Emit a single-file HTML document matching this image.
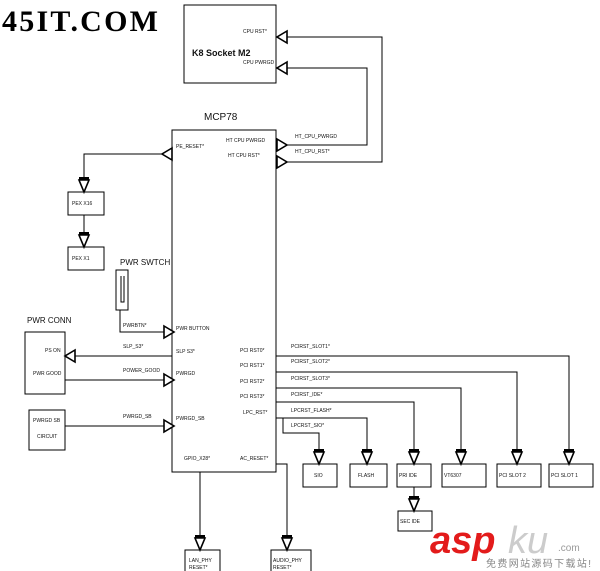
<!DOCTYPE html>
<html><head><meta charset="utf-8"><style>
html,body{margin:0;padding:0;background:#fff;width:600px;height:571px;overflow:hidden}
svg{display:block}
text{font-family:"Liberation Sans",sans-serif;font-size:5px;fill:#111}
</style></head><body>
<svg width="600" height="571" viewBox="0 0 600 571" xmlns="http://www.w3.org/2000/svg">
<defs>
<g id="ad"><path d="M-5,0 L5,0 L0,12 Z" fill="#fff" stroke="#000" stroke-width="1.6"/><rect x="-5" y="-3" width="10" height="3" fill="#000"/></g>
<g id="ar"><path d="M0,-6 L10,0 L0,6 Z" fill="#fff" stroke="#000" stroke-width="1.6"/></g>
<g id="al"><path d="M10,-6 L0,0 L10,6 Z" fill="#fff" stroke="#000" stroke-width="1.6"/></g>
</defs>
<text x="2" y="31" textLength="156" lengthAdjust="spacing" style="font-family:'Liberation Serif',serif;font-size:30px;fill:#000;font-weight:bold">45IT.COM</text>
<g fill="none" stroke="#000" stroke-width="1">
<rect x="184" y="5" width="92" height="78"/>
<rect x="172" y="130" width="104" height="342"/>
<polyline points="287,37 382,37 382,162 286,162"/>
<polyline points="287,68 367,68 367,145 286,145"/>
<polyline points="163,154 84,154 84,192"/>
<rect x="68" y="192" width="36" height="23"/>
<line x1="84" y1="215" x2="84" y2="247"/>
<rect x="68" y="247" width="36" height="23"/>
<rect x="116" y="270" width="12" height="40"/>
<polyline points="121,276 121,302 124,302 124,276"/>
<polyline points="120,310 120,332 164,332"/>
<rect x="25" y="332" width="40" height="62"/>
<line x1="75" y1="356" x2="172" y2="356"/>
<line x1="65" y1="380" x2="164" y2="380"/>
<rect x="29" y="410" width="36" height="40"/>
<line x1="65" y1="426" x2="164" y2="426"/>
<polyline points="276,356 569,356 569,450"/>
<polyline points="276,372 517,372 517,450"/>
<polyline points="276,388 461,388 461,450"/>
<polyline points="276,402 414,402 414,450"/>
<polyline points="276,418 367,418 367,450"/>
<polyline points="283,418 283,433 319,433 319,450"/>
<rect x="303" y="464" width="34" height="23"/>
<rect x="350" y="464" width="37" height="23"/>
<rect x="397" y="464" width="34" height="23"/>
<rect x="442" y="464" width="44" height="23"/>
<rect x="497" y="464" width="44" height="23"/>
<rect x="549" y="464" width="44" height="23"/>
<line x1="414" y1="487" x2="414" y2="499"/>
<rect x="398" y="511" width="34" height="20"/>
<line x1="200" y1="472" x2="200" y2="538"/>
<rect x="185" y="550" width="35" height="25"/>
<polyline points="276,464 287,464 287,538"/>
<rect x="271" y="550" width="40" height="25"/>
</g>
<use href="#al" x="277" y="37"/><use href="#al" x="277" y="68"/>
<use href="#ar" x="277" y="145"/><use href="#ar" x="277" y="162"/>
<use href="#al" x="162" y="154"/>
<use href="#ad" x="84" y="180"/><use href="#ad" x="84" y="235"/>
<use href="#ar" x="164" y="332"/><use href="#al" x="65" y="356"/>
<use href="#ar" x="164" y="380"/><use href="#ar" x="164" y="426"/>
<use href="#ad" x="319" y="452"/><use href="#ad" x="367" y="452"/><use href="#ad" x="414" y="452"/>
<use href="#ad" x="461" y="452"/><use href="#ad" x="517" y="452"/><use href="#ad" x="569" y="452"/>
<use href="#ad" x="414" y="499"/><use href="#ad" x="200" y="538"/><use href="#ad" x="287" y="538"/>
<text x="243" y="33">CPU RST*</text>
<text x="243" y="64">CPU PWRGD</text>
<text x="192" y="56" style="font-size:9px;font-weight:bold">K8 Socket M2</text>
<text x="204" y="120" style="font-size:10px">MCP78</text>
<text x="176" y="148">PE_RESET*</text>
<text x="226" y="142">HT CPU PWRGD</text>
<text x="228" y="157">HT CPU RST*</text>
<text x="295" y="138">HT_CPU_PWRGD</text>
<text x="295" y="153">HT_CPU_RST*</text>
<text x="72" y="205">PEX X16</text>
<text x="72" y="260">PEX X1</text>
<text x="120" y="265" style="font-size:8px">PWR SWTCH</text>
<text x="123" y="327">PWRBTN*</text>
<text x="176" y="330">PWR BUTTON</text>
<text x="27" y="323" style="font-size:8px">PWR CONN</text>
<text x="45" y="352">PS ON</text>
<text x="33" y="375">PWR GOOD</text>
<text x="123" y="348">SLP_S3*</text>
<text x="176" y="353">SLP S3*</text>
<text x="123" y="372">POWER_GOOD</text>
<text x="176" y="375">PWRGD</text>
<text x="33" y="422">PWRGD SB</text>
<text x="37" y="438">CIRCUIT</text>
<text x="123" y="418">PWRGD_SB</text>
<text x="176" y="420">PWRGD_SB</text>
<text x="240" y="352">PCI RST0*</text>
<text x="240" y="367">PCI RST1*</text>
<text x="240" y="383">PCI RST2*</text>
<text x="240" y="398">PCI RST3*</text>
<text x="243" y="414">LPC_RST*</text>
<text x="291" y="348">PCIRST_SLOT1*</text>
<text x="291" y="363">PCIRST_SLOT2*</text>
<text x="291" y="380">PCIRST_SLOT3*</text>
<text x="291" y="396">PCIRST_IDE*</text>
<text x="291" y="412">LPCRST_FLASH*</text>
<text x="291" y="427">LPCRST_SIO*</text>
<text x="184" y="460">GPIO_X28*</text>
<text x="240" y="460">AC_RESET*</text>
<text x="314" y="477">SIO</text>
<text x="358" y="477">FLASH</text>
<text x="399" y="477">PRI IDE</text>
<text x="444" y="477">VT6307</text>
<text x="499" y="477">PCI SLOT 2</text>
<text x="551" y="477">PCI SLOT 1</text>
<text x="400" y="523">SEC IDE</text>
<text x="189" y="562">LAN_PHY</text>
<text x="189" y="569">RESET*</text>
<text x="273" y="562">AUDIO_PHY</text>
<text x="273" y="569">RESET*</text>
<text x="430" y="553" style="font-size:38px;font-weight:bold;fill:#e31b1b;font-style:italic">asp</text>
<text x="508" y="553" style="font-size:38px;fill:#ccc;font-style:italic">ku</text>
<text x="558" y="551" style="font-size:10px;fill:#999">.com</text>
<text x="486" y="567" textLength="105" style="font-size:10px;fill:#888;font-family:'Liberation Sans','Noto Sans CJK SC',sans-serif">免费网站源码下载站!</text>
</svg>
</body></html>
